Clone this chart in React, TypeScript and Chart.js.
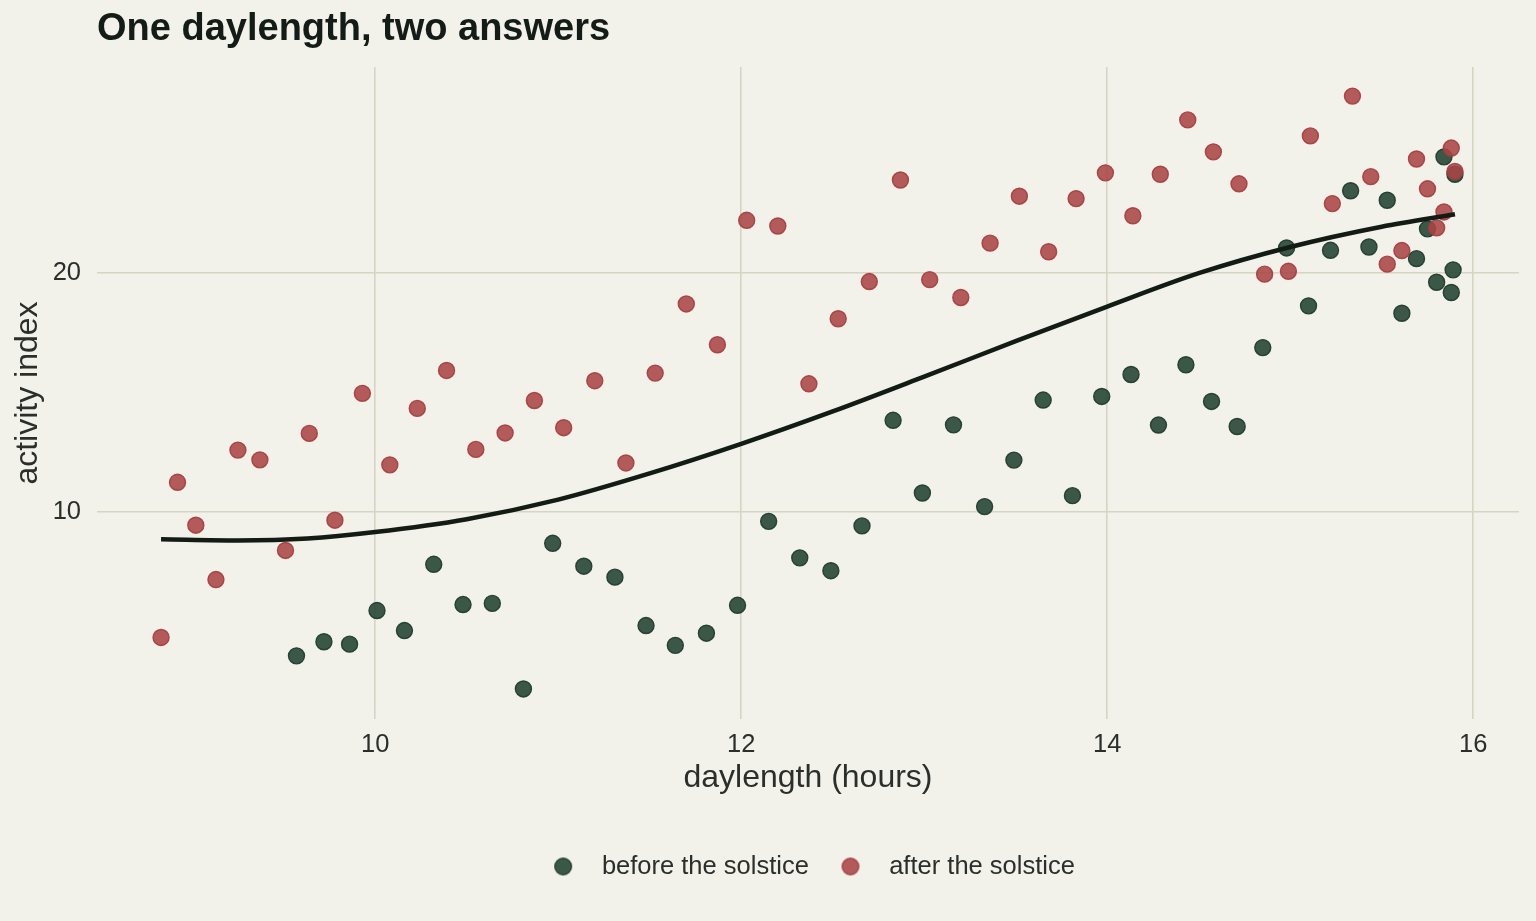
import React, { useEffect, useRef } from "react";
import { Chart, registerables } from "chart.js";

Chart.register(...registerables);

// axis ticks
const xTicks = [10, 12, 14, 16];
const yTicks = [10, 20];

// before the solstice
const beforeX = [9.57, 9.72, 9.86, 10.01, 10.16, 10.32, 10.48, 10.64, 10.81, 10.97, 11.14, 11.31, 11.48, 11.64, 11.81, 11.98, 12.15, 12.32, 12.49, 12.66, 12.83, 12.99, 13.16, 13.33, 13.49, 13.65, 13.81, 13.97, 14.13, 14.28, 14.43, 14.57, 14.71, 14.85, 14.98, 15.1, 15.22, 15.33, 15.43, 15.53, 15.61, 15.69, 15.75, 15.8, 15.84, 15.88, 15.89, 15.9];
const beforeY = [3.95, 4.54, 4.44, 5.85, 5.01, 7.79, 6.1, 6.15, 2.56, 8.67, 7.71, 7.25, 5.22, 4.39, 4.9, 6.07, 9.59, 8.06, 7.52, 9.4, 13.83, 10.78, 13.64, 10.21, 12.16, 14.68, 10.67, 14.83, 15.75, 13.63, 16.16, 14.62, 13.57, 16.88, 21.06, 18.63, 20.96, 23.46, 21.1, 23.06, 18.32, 20.61, 21.86, 19.62, 24.88, 19.19, 20.14, 24.15];

// after the solstice
const afterX = [8.83, 8.92, 9.02, 9.13, 9.25, 9.37, 9.51, 9.64, 9.78, 9.93, 10.08, 10.23, 10.39, 10.55, 10.71, 10.87, 11.03, 11.2, 11.37, 11.53, 11.7, 11.87, 12.03, 12.2, 12.37, 12.53, 12.7, 12.87, 13.03, 13.2, 13.36, 13.52, 13.68, 13.83, 13.99, 14.14, 14.29, 14.44, 14.58, 14.72, 14.86, 14.99, 15.11, 15.23, 15.34, 15.44, 15.53, 15.61, 15.69, 15.75, 15.8, 15.84, 15.88, 15.9];
const afterY = [4.72, 11.23, 9.43, 7.15, 12.58, 12.17, 8.37, 13.28, 9.64, 14.96, 11.96, 14.33, 15.92, 12.61, 13.3, 14.66, 13.52, 15.49, 12.04, 15.81, 18.71, 17.0, 22.22, 21.98, 15.36, 18.09, 19.65, 23.91, 19.73, 18.98, 21.26, 23.23, 20.9, 23.13, 24.21, 22.41, 24.15, 26.43, 25.09, 23.75, 19.96, 20.08, 25.76, 22.92, 27.43, 24.05, 20.38, 20.95, 24.79, 23.54, 21.9, 22.57, 25.25, 24.27];

// smooth trend
const trendX = [8.83, 9.25, 9.63, 10, 10.5, 11, 11.5, 12, 12.5, 13, 13.5, 14, 14.5, 15, 15.5, 15.9];
const trendY = [8.84, 8.79, 8.87, 9.14, 9.68, 10.5, 11.6, 12.84, 14.2, 15.66, 17.15, 18.6, 20.0, 21.1, 21.95, 22.47];

const BG = "#f2f1ea";
const GRID = "#d6d5c4";
const TEXT = "#2b2f2b";
const TITLE = "#141c17";
const GREEN_FILL = "rgba(42, 74, 56, 0.92)";
const GREEN_EDGE = "rgba(34, 60, 45, 0.95)";
const RED_FILL = "rgba(168, 70, 70, 0.88)";
const RED_EDGE = "rgba(165, 60, 60, 0.9)";
const LINE = "#131b15";

const toPoints = (xs: number[], ys: number[]) => xs.map((x, i) => ({ x, y: ys[i] }));

const makeDot = (fill: string, stroke: string) => {
  const c = document.createElement("canvas");
  c.width = 24;
  c.height = 22;
  const g = c.getContext("2d");
  g.beginPath();
  g.arc(10, 11, 8.3, 0, Math.PI * 2);
  g.fillStyle = fill;
  g.fill();
  g.lineWidth = 1.4;
  g.strokeStyle = stroke;
  g.stroke();
  return c;
};

const App = () => {
  const canvasRef = useRef<HTMLCanvasElement | null>(null);
  const chartRef = useRef<Chart | null>(null);

  useEffect(() => {
    document.body.style.margin = "0";
    document.body.style.background = BG;
    Chart.defaults.font.family = '"Liberation Sans", Arial, Helvetica, sans-serif';

    if (chartRef.current) {
      chartRef.current.destroy();
    }

    const dots = [makeDot(GREEN_FILL, GREEN_EDGE), makeDot(RED_FILL, RED_EDGE)];

    chartRef.current = new Chart(canvasRef.current, {
      type: "scatter",
      data: {
        datasets: [
          {
            label: "before the solstice",
            data: toPoints(beforeX, beforeY),
            order: 3,
            pointRadius: 8,
            pointBackgroundColor: GREEN_FILL,
            pointBorderColor: GREEN_EDGE,
            pointBorderWidth: 1.4,
            backgroundColor: GREEN_FILL,
            borderColor: GREEN_EDGE,
          },
          {
            label: "after the solstice",
            data: toPoints(afterX, afterY),
            order: 2,
            pointRadius: 8,
            pointBackgroundColor: RED_FILL,
            pointBorderColor: RED_EDGE,
            pointBorderWidth: 1.4,
            backgroundColor: RED_FILL,
            borderColor: RED_EDGE,
          },
          {
            label: "trend",
            data: toPoints(trendX, trendY),
            order: 1,
            showLine: true,
            fill: false,
            pointRadius: 0,
            borderColor: LINE,
            borderWidth: 4.5,
            cubicInterpolationMode: "monotone",
          },
        ],
      },
      options: {
        responsive: false,
        animation: false,
        events: [],
        layout: { padding: { top: 0, left: 0, right: 17, bottom: 31.75 } },
        plugins: {
          title: {
            display: true,
            text: "One daylength, two answers",
            align: "start",
            fullSize: false,
            color: TITLE,
            font: { size: 38, weight: "bold", lineHeight: 1.2 },
            padding: { top: 7, bottom: 14.4 },
          },
          legend: {
            position: "bottom",
            align: "center",
            fullSize: false,
            labels: {
              color: TEXT,
              font: { size: 25.5 },
              usePointStyle: true,
              pointStyleWidth: 48,
              padding: 19.6,
              generateLabels: (chart) => {
                const base = Chart.defaults.plugins.legend.labels.generateLabels(chart);
                return base
                  .filter((item) => item.datasetIndex !== 2)
                  .sort((a, b) => a.datasetIndex - b.datasetIndex)
                  .map((item) => ({ ...item, pointStyle: dots[item.datasetIndex], fontColor: TEXT }));
              },
            },
          },
          tooltip: { enabled: false },
        },
        scales: {
          x: {
            type: "linear",
            min: 8.48,
            max: 16.25,
            afterBuildTicks: (scale) => {
              scale.ticks = xTicks.map((value) => ({ value }));
            },
            afterFit: (scale) => {
              scale.height = 115.15;
            },
            grid: { color: GRID, lineWidth: 1.6, drawTicks: false },
            border: { display: false },
            ticks: { padding: 10.2, color: TEXT, font: { size: 25.5 } },
            title: {
              display: true,
              text: "daylength (hours)",
              color: TEXT,
              font: { size: 32, lineHeight: 1.1 },
              padding: { top: 0, bottom: 38.65 },
            },
          },
          y: {
            type: "linear",
            min: 1.3,
            max: 28.65,
            afterBuildTicks: (scale) => {
              scale.ticks = yTicks.map((value) => ({ value }));
            },
            afterFit: (scale) => {
              scale.width = 97;
            },
            grid: { color: GRID, lineWidth: 1.6, drawTicks: false },
            border: { display: false },
            ticks: { padding: 16, color: TEXT, font: { size: 25.5 } },
            title: {
              display: true,
              text: "activity index",
              color: TEXT,
              font: { size: 32, lineHeight: 1.1 },
              padding: { top: 10.8, bottom: 0 },
            },
          },
        },
      },
    });

    return () => {
      if (chartRef.current) {
        chartRef.current.destroy();
        chartRef.current = null;
      }
    };
  }, []);

  return (
    <div style={{ width: 1536, height: 921, background: BG }}>
      <canvas ref={canvasRef} width={1536} height={921} style={{ display: "block" }}></canvas>
    </div>
  );
};

export default App;
